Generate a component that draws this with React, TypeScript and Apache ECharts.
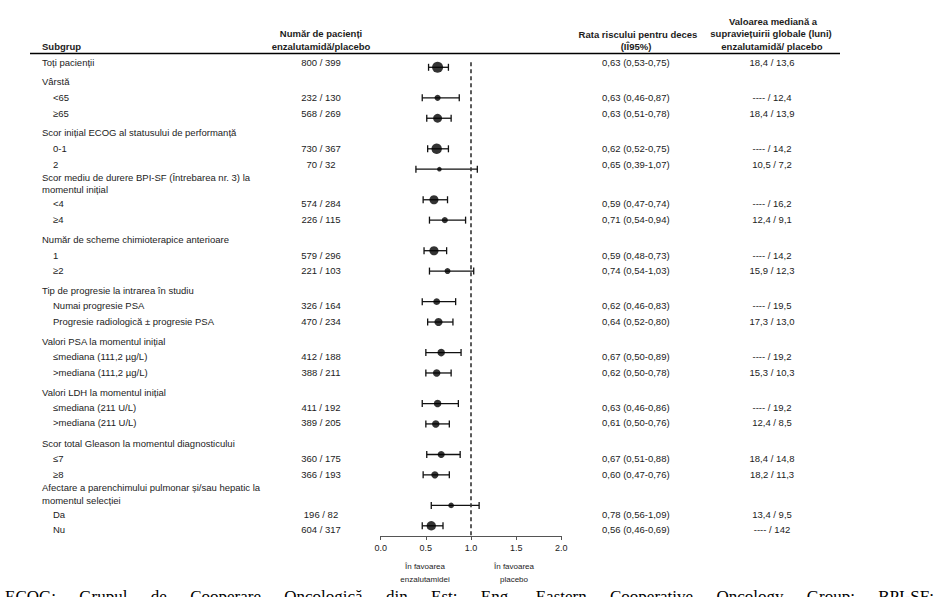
import React, { useEffect, useRef } from "react";
import * as echarts from "echarts";

// ---------- data ----------
const groupTitles: string[][] = [
  ["Vârstă"],
  ["Scor inițial ECOG al statusului de performanță"],
  ["Scor mediu de durere BPI-SF (Întrebarea nr. 3) la", "momentul inițial"],
  ["Număr de scheme chimioterapice anterioare"],
  ["Tip de progresie la intrarea în studiu"],
  ["Valori PSA la momentul inițial"],
  ["Valori LDH la momentul inițial"],
  ["Scor total Gleason la momentul diagnosticului"],
  ["Afectare a parenchimului pulmonar și/sau hepatic la", "momentul selecției"],
];

const subgroupLabels = [
  "Toți pacienții",
  "<65", "≥65",
  "0-1", "2",
  "<4", "≥4",
  "1", "≥2",
  "Numai progresie PSA", "Progresie radiologică ± progresie PSA",
  "≤mediana (111,2 µg/L)", ">mediana (111,2 µg/L)",
  "≤mediana (211 U/L)", ">mediana (211 U/L)",
  "≤7", "≥8",
  "Da", "Nu",
];

const nEnzalutamide = [800, 232, 568, 730, 70, 574, 226, 579, 221, 326, 470, 412, 388, 411, 389, 360, 366, 196, 604];
const nPlacebo = [399, 130, 269, 367, 32, 284, 115, 296, 103, 164, 234, 188, 211, 192, 205, 175, 193, 82, 317];

const hazardRatio = [0.63, 0.63, 0.63, 0.62, 0.65, 0.59, 0.71, 0.59, 0.74, 0.62, 0.64, 0.67, 0.62, 0.63, 0.61, 0.67, 0.60, 0.78, 0.56];
const ciLow = [0.53, 0.46, 0.51, 0.52, 0.39, 0.47, 0.54, 0.48, 0.54, 0.46, 0.52, 0.50, 0.50, 0.46, 0.50, 0.51, 0.47, 0.56, 0.46];
const ciHigh = [0.75, 0.87, 0.78, 0.75, 1.07, 0.74, 0.94, 0.73, 1.03, 0.83, 0.80, 0.89, 0.78, 0.86, 0.76, 0.88, 0.76, 1.09, 0.69];

const medianEnzalutamide = ["18,4", "----", "18,4", "----", "10,5", "----", "12,4", "----", "15,9", "----", "17,3", "----", "15,3", "----", "12,4", "18,4", "18,2", "13,4", "----"];
const medianPlacebo = ["13,6", "12,4", "13,9", "14,2", "7,2", "16,2", "9,1", "14,2", "12,3", "19,5", "13,0", "19,2", "10,3", "19,2", "8,5", "14,8", "11,3", "9,5", "142"];

const xTickValues = [0, 0.5, 1, 1.5, 2];

const footnote = "ECOG: Grupul de Cooperare Oncologică din Est; Eng. Eastern Cooperative Oncology Group; BPI-SF:";

// ---------- layout ----------
const W = 936;
const H = 597;
const TEXT = "#1c1c1c";
const FONT = '"Liberation Sans", Arial, sans-serif';
const SERIF = '"Liberation Serif", "Times New Roman", serif';
const FS = 9.5;
// vertical centres of the table's text lines (layout)
const LINE_Y = [62, 81.5, 97.5, 113, 132.5, 148.5, 164, 177.5, 189.5, 203, 219, 239, 255, 270.5, 290, 305.5, 321, 341.5, 356.5, 372.5, 392, 407, 422.5, 443.5, 458, 474, 487.5, 500.5, 514, 529.5];

const fmt = (v: number) => v.toFixed(2).replace(".", ",");

function rowPosition(i: number): number {
  if (i === 0) return 0;
  const g = Math.floor((i - 1) / 2);
  return 5 * g + 3 + 2 * ((i - 1) % 2);
}

function measure(text: string, font: string): number {
  const c = document.createElement("canvas").getContext("2d");
  if (!c) return text.length * 7;
  c.font = font;
  return c.measureText(text).width;
}

function buildOption() {
  const graphics: any[] = [];
  const txt = (text: string, x: number, y: number, opts: any = {}) =>
    graphics.push({
      type: "text",
      x,
      y,
      silent: true,
      style: {
        text,
        fill: opts.fill || TEXT,
        font: `${opts.bold ? "bold " : ""}${opts.size || FS}px ${opts.family || FONT}`,
        align: opts.align || "left",
        verticalAlign: opts.valign || "middle",
      },
    });

  // headers
  txt("Subgrup", 42, 46.5, { bold: true });
  txt("Număr de pacienți", 321, 33.5, { bold: true, align: "center" });
  txt("enzalutamidă/placebo", 321, 46.5, { bold: true, align: "center" });
  txt("Rata riscului pentru deces", 638, 34, { bold: true, align: "center" });
  txt("(IÎ95%)", 636, 46.5, { bold: true, align: "center" });
  txt("Valoarea mediană a", 773, 21, { bold: true, align: "center" });
  txt("supraviețuirii globale (luni)", 771, 33.5, { bold: true, align: "center" });
  txt("enzalutamidă/ placebo", 772, 46.5, { bold: true, align: "center" });
  graphics.push({
    type: "line",
    silent: true,
    shape: { x1: 30, y1: 53.5, x2: 840, y2: 53.5 },
    style: { stroke: "#000", lineWidth: 1.5 },
  });

  // table rows
  let line = 0;
  const dataRow = (i: number) => {
    const y = LINE_Y[line++];
    txt(subgroupLabels[i], i === 0 ? 42 : 53, y);
    txt(`${nEnzalutamide[i]} / ${nPlacebo[i]}`, 321, y, { align: "center" });
    txt(`${fmt(hazardRatio[i])} (${fmt(ciLow[i])}-${fmt(ciHigh[i])})`, 602, y);
    txt(`${medianEnzalutamide[i]} / ${medianPlacebo[i]}`, 772, y, { align: "center" });
  };
  dataRow(0);
  groupTitles.forEach((title, g) => {
    title.forEach((t) => txt(t, 42, LINE_Y[line++]));
    dataRow(2 * g + 1);
    dataRow(2 * g + 2);
  });

  // favour labels
  txt("În favoarea", 425, 566.5, { size: 8, align: "center" });
  txt("enzalutamidei", 425, 579, { size: 8, align: "center" });
  txt("În favoarea", 514, 566.5, { size: 8, align: "center" });
  txt("placebo", 514, 579, { size: 8, align: "center" });

  // cut-off, justified footnote line (as in the reference, only its top shows)
  const fnFont = `17px ${SERIF}`;
  const words = footnote.split(" ");
  const widths = words.map((w) => measure(w, fnFont));
  const left = 5;
  const right = 934;
  const gap = (right - left - widths.reduce((a, b) => a + b, 0)) / (words.length - 1);
  let fx = left;
  words.forEach((w, k) => {
    txt(w, fx, 588, { size: 17, valign: "top", family: SERIF, fill: "#000" });
    fx += widths[k] + gap;
  });

  const maxTotal = Math.max(...nEnzalutamide.map((n, i) => n + nPlacebo[i]));
  const ciData = subgroupLabels.map((_, i) => [ciLow[i], ciHigh[i], rowPosition(i)]);
  const pointData = subgroupLabels.map((_, i) => [hazardRatio[i], rowPosition(i), nEnzalutamide[i] + nPlacebo[i]]);

  return {
    animation: false,
    grid: { left: 380.7, top: 62.2, width: 180.6, height: 473.8, containLabel: false },
    xAxis: {
      type: "value",
      min: xTickValues[0],
      max: xTickValues[xTickValues.length - 1],
      interval: xTickValues[1] - xTickValues[0],
      axisLine: { show: true, onZero: false, lineStyle: { color: "#555", width: 1 } },
      axisTick: { show: true, length: 4, lineStyle: { color: "#555" } },
      splitLine: { show: false },
      axisLabel: {
        formatter: (v: number) => v.toFixed(1),
        fontSize: 9,
        fontFamily: FONT,
        color: TEXT,
        margin: 7,
      },
    },
    yAxis: {
      type: "value",
      min: -0.5,
      max: 46,
      inverse: true,
      show: false,
    },
    series: [
      {
        type: "custom",
        silent: true,
        data: ciData,
        encode: { x: [0, 1], y: 2 },
        renderItem: (params: any, api: any) => {
          const y = api.value(2);
          const a = api.coord([api.value(0), y]);
          const b = api.coord([api.value(1), y]);
          const cap = 3.5;
          const st = { stroke: "#111", lineWidth: 1.3 };
          return {
            type: "group",
            children: [
              { type: "line", shape: { x1: a[0], y1: a[1], x2: b[0], y2: b[1] }, style: st },
              { type: "line", shape: { x1: a[0], y1: a[1] - cap, x2: a[0], y2: a[1] + cap }, style: st },
              { type: "line", shape: { x1: b[0], y1: b[1] - cap, x2: b[0], y2: b[1] + cap }, style: st },
            ],
          };
        },
        z: 2,
      },
      {
        type: "scatter",
        silent: true,
        data: pointData,
        symbol: "circle",
        symbolSize: (v: number[]) => 4 + (7 * v[2]) / maxTotal,
        itemStyle: { color: "#000" },
        z: 3,
        markLine: {
          silent: true,
          symbol: ["none", "none"],
          label: { show: false },
          lineStyle: { type: [4, 3], color: "#333", width: 1.6 },
          data: [{ xAxis: 1 }],
        },
      },
    ],
    graphic: graphics,
  };
}

export default function App() {
  const ref = useRef<HTMLDivElement>(null);
  useEffect(() => {
    if (!ref.current) return;
    const chart = echarts.init(ref.current, null, { renderer: "svg" });
    chart.setOption(buildOption() as any);
    return () => chart.dispose();
  }, []);
  return (
    <div
      ref={ref}
      style={{ position: "absolute", left: 0, top: 0, width: W, height: H, background: "#fff", overflow: "hidden" }}
    />
  );
}
